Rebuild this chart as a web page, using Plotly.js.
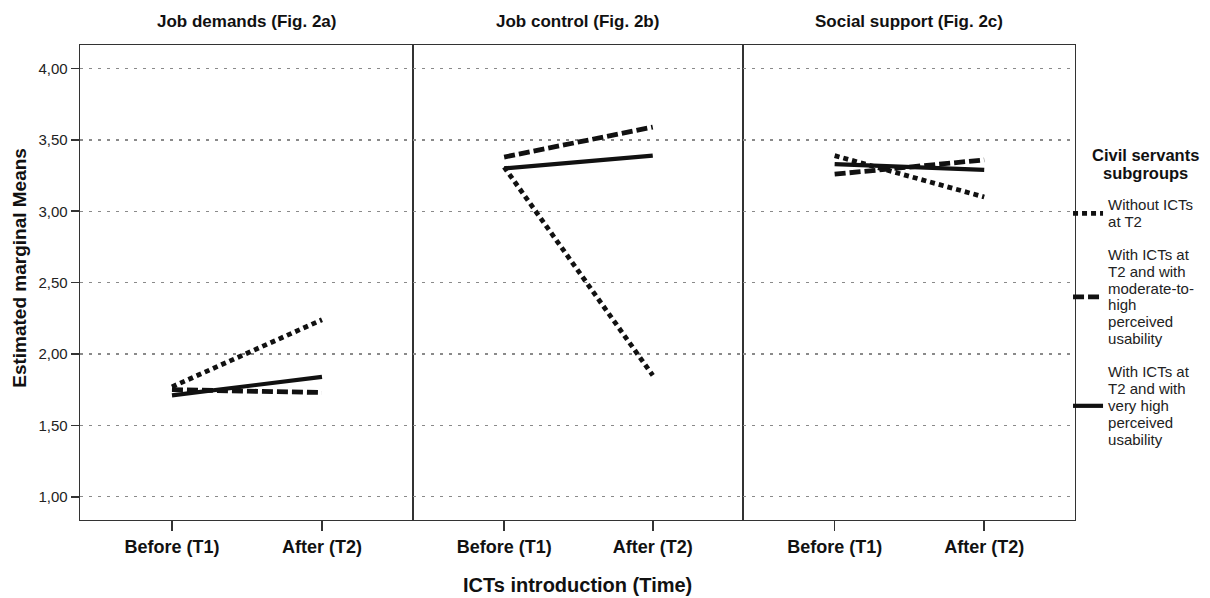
<!DOCTYPE html>
<html>
<head>
<meta charset="utf-8">
<script src="https://cdn.plot.ly/plotly-3.0.1.min.js"></script>
<style>html,body{margin:0;padding:0;background:#fff;}</style>
</head>
<body>
<div id="chart" style="width:1210px;height:598px;"></div>
<script>
// ---- data ----
const timeLabels = ['Before (T1)', 'After (T2)'];
const panelTitles = ['Job demands (Fig. 2a)', 'Job control (Fig. 2b)', 'Social support (Fig. 2c)'];
const groupLines = [
  ['Without ICTs', 'at T2'],
  ['With ICTs at', 'T2 and with', 'moderate-to-', 'high', 'perceived', 'usability'],
  ['With ICTs at', 'T2 and with', 'very high', 'perceived', 'usability']
];
const legendTitleLines = ['Civil servants', 'subgroups'];
const yTickValues = [1.0, 1.5, 2.0, 2.5, 3.0, 3.5, 4.0];

const jobDemandsWithout = [1.77, 2.24];
const jobDemandsModerate = [1.75, 1.73];
const jobDemandsVeryHigh = [1.71, 1.84];

const jobControlWithout = [3.31, 1.85];
const jobControlModerate = [3.38, 3.59];
const jobControlVeryHigh = [3.30, 3.39];

const socialSupportWithout = [3.39, 3.10];
const socialSupportModerate = [3.26, 3.36];
const socialSupportVeryHigh = [3.33, 3.29];

const panels = [
  [jobDemandsWithout, jobDemandsModerate, jobDemandsVeryHigh],
  [jobControlWithout, jobControlModerate, jobControlVeryHigh],
  [socialSupportWithout, socialSupportModerate, socialSupportVeryHigh]
];

// ---- styles ----
const FONT = 'Liberation Sans, Arial, Helvetica, sans-serif';
const lineStyles = [
  {dash: '5px,4px', width: 4.8},
  {dash: '11px,4px', width: 4.8},
  {dash: 'solid', width: 4.2}
];
const groupNames = groupLines.map(ls => ls.map(l => '<span style="font-size:15px">' + l + '</span>').join('<br>'));

const traces = [];
panels.forEach((series, p) => {
  series.forEach((vals, g) => {
    traces.push({
      type: 'scatter', mode: 'lines',
      x: timeLabels, y: vals,
      xaxis: p === 0 ? 'x' : 'x' + (p + 1),
      yaxis: p === 0 ? 'y' : 'y' + (p + 1),
      name: groupNames[g],
      legendgroup: 'g' + g,
      showlegend: p === 0,
      line: {color: '#111', width: lineStyles[g].width, dash: lineStyles[g].dash},
      hoverinfo: 'skip'
    });
  });
});

const domains = [[0, 0.3347], [0.3347, 0.6663], [0.6663, 1]];
const layout = {
  width: 1210, height: 598,
  margin: {l: 80, r: 135, t: 45, b: 78, autoexpand: false},
  paper_bgcolor: '#fff', plot_bgcolor: '#fff',
  separators: ',.',
  font: {family: FONT, color: '#222'},
  showlegend: true,
  legend: {
    x: 0.993, xanchor: 'left', y: 0.695, yanchor: 'top',
    bgcolor: 'rgba(0,0,0,0)',
    font: {family: FONT, size: 13, color: '#222'},
    traceorder: 'grouped', tracegroupgap: 13
  },
  annotations: [],
};

domains.forEach((d, i) => {
  const xk = i === 0 ? 'xaxis' : 'xaxis' + (i + 1);
  const yk = i === 0 ? 'yaxis' : 'yaxis' + (i + 1);
  layout[xk] = {
    domain: d, anchor: i === 0 ? 'y' : 'y' + (i + 1),
    type: 'category', range: [-0.613, 1.607],
    showline: true, mirror: true, linecolor: '#333', linewidth: 1.4,
    ticks: 'outside', ticklen: 10, tickwidth: 1.6, tickcolor: '#333',
    showgrid: false, zeroline: false,
    tickfont: {family: FONT, size: 18, color: '#111', weight: 'bold'},
    fixedrange: true
  };
  layout[yk] = {
    domain: [0, 1], anchor: i === 0 ? 'x' : 'x' + (i + 1),
    range: [0.837, 4.165],
    tickvals: yTickValues, tickformat: '.2f',
    showticklabels: i === 0,
    ticks: i === 0 ? 'outside' : '', ticklen: 8, tickwidth: 1.6, tickcolor: '#333',
    showline: true, mirror: true, linecolor: '#333', linewidth: 1.4,
    showgrid: true, gridcolor: '#8a8a8a', gridwidth: 1.2, griddash: '3px,6px',
    zeroline: false,
    tickfont: {family: FONT, size: 15, color: '#222'},
    fixedrange: true
  };
  layout.annotations.push({
    text: '<b>' + panelTitles[i] + '</b>',
    xref: 'paper', yref: 'paper',
    x: (d[0] + d[1]) / 2, y: 1.05, xanchor: 'center', yanchor: 'middle',
    showarrow: false, font: {family: FONT, size: 17, color: '#111'}
  });
});

// legend title (centered block above the legend entries)
layout.annotations.push({
  text: legendTitleLines.map(l => '<b><span style="font-size:16.5px">' + l + '</span></b>').join('<br>'),
  xref: 'paper', yref: 'paper', x: 1.0704, y: 0.7505,
  xanchor: 'center', yanchor: 'middle', align: 'center', showarrow: false,
  font: {family: FONT, size: 14, color: '#111'}
});

layout.annotations.push({
  text: '<b>ICTs introduction (Time)</b>',
  xref: 'paper', yref: 'paper', x: 0.5, y: -0.137,
  xanchor: 'center', yanchor: 'middle', showarrow: false,
  font: {family: FONT, size: 20, color: '#111'}
});
layout.annotations.push({
  text: '<b>Estimated marginal Means</b>',
  xref: 'paper', yref: 'paper', x: -0.0603, y: 0.531,
  xanchor: 'center', yanchor: 'middle', textangle: -90, showarrow: false,
  font: {family: FONT, size: 19, color: '#111'}
});

Plotly.newPlot('chart', traces, layout, {displayModeBar: false, staticPlot: true});
</script>
</body>
</html>
